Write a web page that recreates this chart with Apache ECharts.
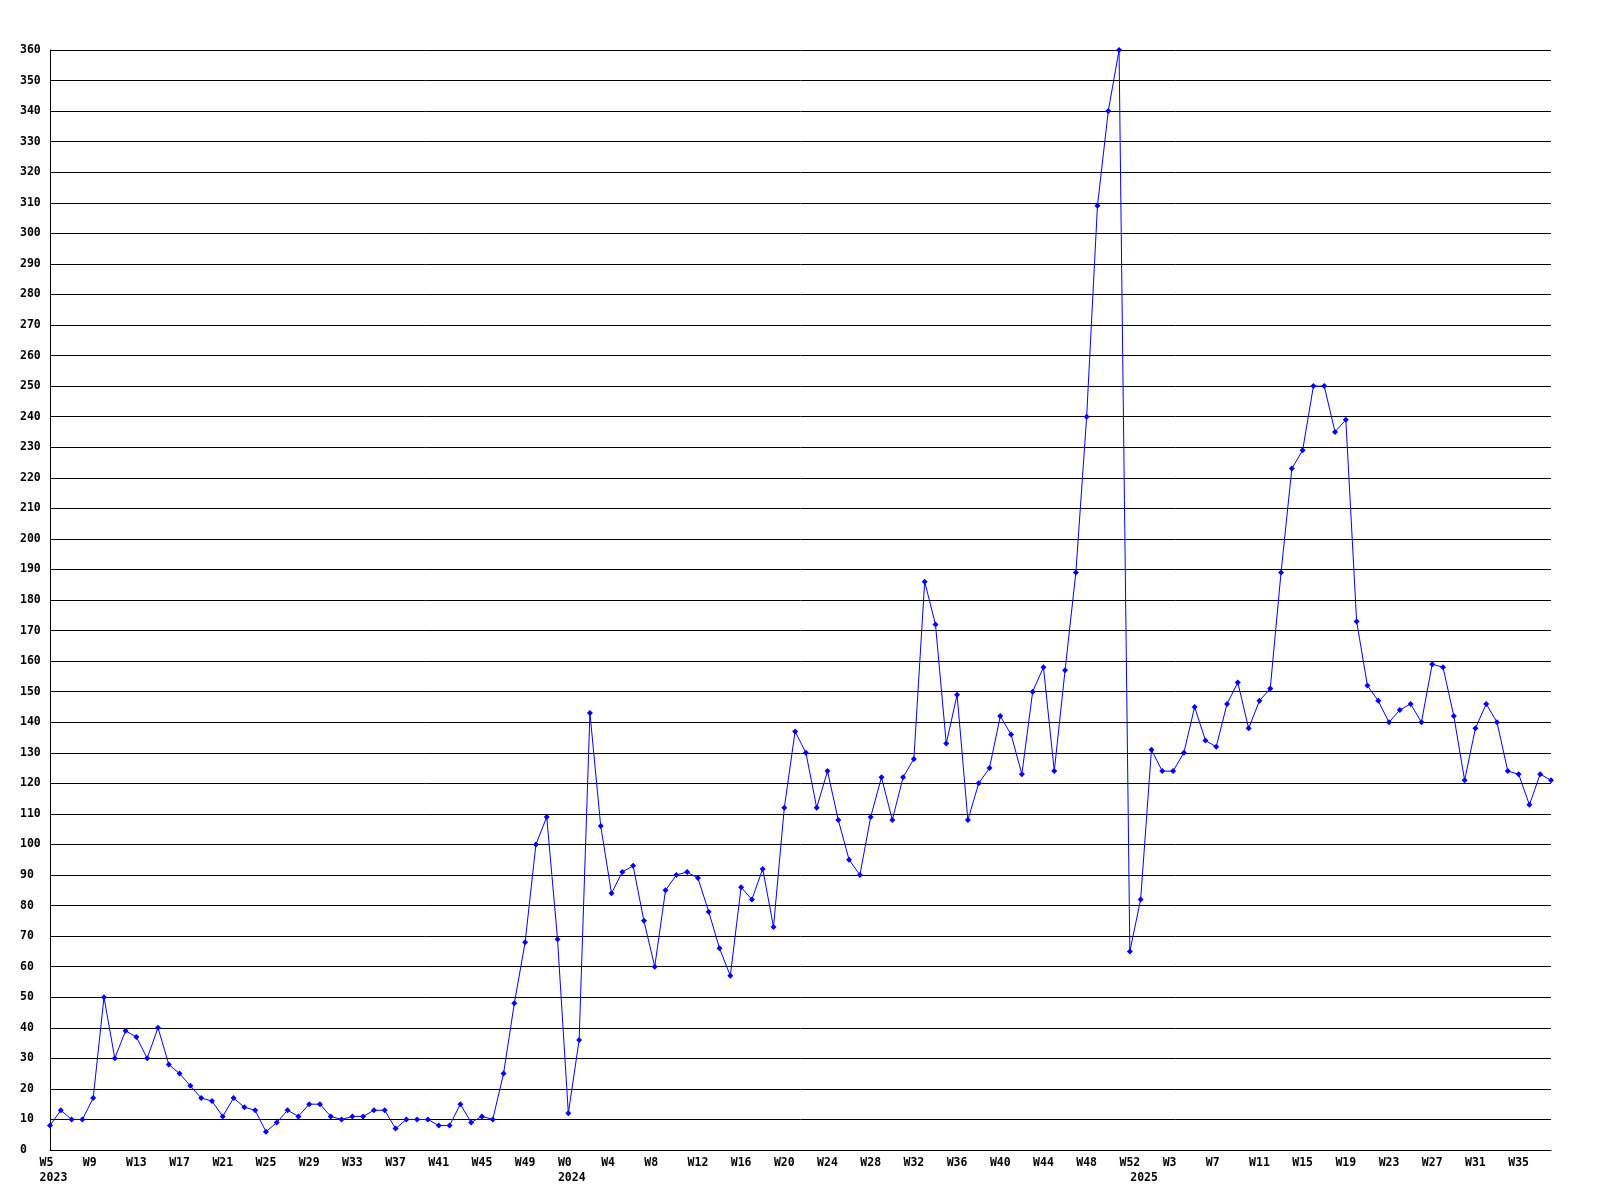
<!DOCTYPE html>
<html><head><meta charset="utf-8">
<script src="https://cdn.jsdelivr.net/npm/echarts@6/dist/echarts.min.js"></script>
<style>html,body{margin:0;padding:0;background:#fff}#c{width:1600px;height:1200px}</style>
</head><body><div id="c"></div>
<script>
// ---- data ----
const years = [2023, 2024, 2025];
const firstWeek = [5, 0, 0];
const lastWeek = [52, 52, 38];
const values2023 = [8,13,10,10,17,50,30,39,37,30,40,28,25,21,17,16,11,17,14,13,6,9,13,11,15,15,11,10,11,11,13,13,7,10,10,10,8,8,15,9,11,10,25,48,68,100,109,69];
const values2024 = [12,36,143,106,84,91,93,75,60,85,90,91,89,78,66,57,86,82,92,73,112,137,130,112,124,108,95,90,109,122,108,122,128,186,172,133,149,108,120,125,142,136,123,150,158,124,157,189,240,309,340,360,65];
const values2025 = [82,131,124,124,130,145,134,132,146,153,138,147,151,189,223,229,250,250,235,239,173,152,147,140,144,146,140,159,158,142,121,138,146,140,124,123,113,123,121];
const yTickValues = [0,10,20,30,40,50,60,70,80,90,100,110,120,130,140,150,160,170,180,190,200,210,220,230,240,250,260,270,280,290,300,310,320,330,340,350,360];
const labelEvery = 4;

// ---- build categories ----
const valuesByYear = [values2023, values2024, values2025];
const categories = [];
const seriesData = [];
const yearStart = {};
years.forEach((y, k) => {
  yearStart[categories.length] = y;
  for (let w = firstWeek[k]; w <= lastWeek[k]; w++) {
    categories.push(y + '-W' + w);
  }
  valuesByYear[k].forEach(v => seriesData.push(v));
});

const font = {fontFamily: 'DejaVu Sans Mono', fontWeight: 'bold', fontSize: 11.5, color: '#000'};

const chart = echarts.init(document.getElementById('c'), null, {renderer: 'canvas'});
chart.setOption({
  animation: false,
  backgroundColor: '#fff',
  grid: {left: 50, right: 49, top: 50, bottom: 50, containLabel: false},
  xAxis: [{
    type: 'category', data: categories, boundaryGap: false, position: 'bottom',
    axisLine: {show: true, lineStyle: {color: '#000', width: 1}},
    axisTick: {show: false},
    splitLine: {show: false},
    axisLabel: Object.assign({}, font, {
      margin: 6, lineHeight: 14,
      interval: (i) => i % labelEvery === 0,
      formatter: (v) => { let s = 'W' + v.split('-W')[1]; if (s.length < 3) s += ' '; return s; }
    })
  }, {
    type: 'category', data: categories, boundaryGap: false, position: 'bottom',
    axisLine: {show: false}, axisTick: {show: false}, splitLine: {show: false},
    axisLabel: Object.assign({}, font, {
      margin: 21, lineHeight: 14,
      interval: (i) => yearStart[i] !== undefined,
      formatter: (v) => ' ' + v.split('-W')[0]
    })
  }],
  yAxis: {
    type: 'value', min: 0, max: 360, interval: 10,
    axisLine: {show: true, lineStyle: {color: '#000', width: 1}},
    axisTick: {show: false},
    splitLine: {show: true, lineStyle: {color: '#000', width: 1}},
    axisLabel: Object.assign({}, font, {
      align: 'left', margin: 30,
      formatter: (v) => yTickValues.includes(v) ? String(v) : ''
    })
  },
  series: [{
    type: 'line', data: seriesData, xAxisIndex: 0,
    symbol: 'diamond', symbolSize: 6, showSymbol: true,
    lineStyle: {color: '#0000ff', width: 1},
    itemStyle: {color: '#0000ff'},
    clip: true
  }]
});
</script>
</body></html>
